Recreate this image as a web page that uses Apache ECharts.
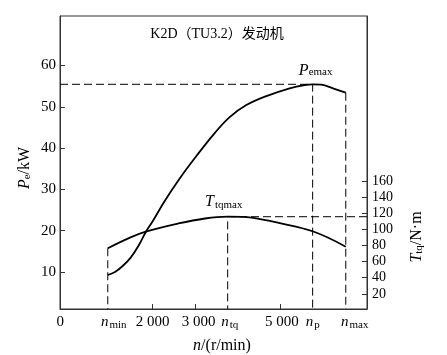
<!DOCTYPE html>
<html><head><meta charset="utf-8">
<script src="https://cdn.jsdelivr.net/npm/echarts@6/dist/echarts.min.js"></script>
<style>html,body{margin:0;padding:0;background:#fff}#c{width:447px;height:355px}</style>
</head><body><div id="c"></div>
<script>
// ---- data ----
const titleText = 'K2D（TU3.2）发动机';
const powerRpm = [945, 1115, 1296, 1485, 1673, 1838, 2010, 2286, 2639, 3032, 3463, 3816, 4209, 4680, 5229, 5583, 5770, 5975, 6249, 6550];
const powerKw  = [9.24, 9.97, 11.42, 13.46, 16.37, 19.61, 22.39, 27.16, 32.61, 38.06, 43.63, 47.51, 50.42, 52.6, 54.48, 55.28, 55.45, 55.35, 54.48, 53.41];
const torqueRpm = [945, 1429, 1822, 2606, 3235, 3769, 4217, 4530, 4923, 5785, 6550];
const torqueNm  = [76.5, 88.8, 96.8, 107.2, 113.4, 115.6, 115.0, 112.7, 108.5, 97.3, 78.4];
const nMin = 945, nTq = 3769, nP = 5770, nMax = 6550;
const pMax = 55.45, tMax = 115.6, pAtNmax = 53.41, tAtNmin = 76.5;
const xTickValues = [2000, 3000, 5000];
const xLabelValues = [0, nMin, 2000, 3000, nTq, 5000, nP, nMax];
const xLabelTexts = ['{z|0}', '{nmin|n}{s|min}', '{d|2 000}', '{d3|3 000}', '{ntq|n}{s|tq}', '{d5|5 000}', '{np|n}{s|p}', '{nmax|n}{s|max}'];
const leftTicks = [10, 20, 30, 40, 50, 60];
const rightTicks = [20, 40, 60, 80, 100, 120, 140, 160];
const X_MIN = -180, X_MAX = 7050;
const PL_MIN = 1, PL_MAX = 72;
const TR_MIN = 1.24, TR_MAX = 364.3;

const serif = "'Liberation Serif','Times New Roman','Noto Sans CJK SC',serif";
const black = '#000';
const dash = [8, 4];

const chart = echarts.init(document.getElementById('c'), null, {renderer: 'canvas'});
const pairs = (xs, ys) => xs.map((x, i) => [x, ys[i]]);

const nRich = {
  z: {fontSize: 15, fontFamily: serif, color: black, padding: [0, 15, 0, 0]},
  d: {fontSize: 15, fontFamily: serif, color: black},
  d3: {fontSize: 15, fontFamily: serif, color: black, padding: [0, 0, 0, 7]},
  d5: {fontSize: 15, fontFamily: serif, color: black, padding: [0, 0, 0, 4]},
  nmin: {fontSize: 15, fontStyle: 'italic', fontFamily: serif, color: black, padding: [0, 0, 3, 12]},
  ntq: {fontSize: 15, fontStyle: 'italic', fontFamily: serif, color: black, padding: [0, 0, 3, 4]},
  np: {fontSize: 15, fontStyle: 'italic', fontFamily: serif, color: black, padding: [0, 0, 3, 0]},
  nmax: {fontSize: 15, fontStyle: 'italic', fontFamily: serif, color: black, padding: [0, 0, 3, 18]},
  s: {fontSize: 11, fontFamily: serif, color: black, padding: [3, 0, 0, 1]}
};

const dashedLine = (data, yIdx) => ({
  type: 'line', yAxisIndex: yIdx, data: data, symbol: 'none', silent: true,
  lineStyle: {color: black, width: 1, type: dash}, z: 1, animation: false
});

chart.setOption({
  animation: false,
  backgroundColor: '#fff',
  grid: {left: 60, right: 80, top: 16, bottom: 46, show: true, borderColor: '#333', borderWidth: 1},
  xAxis: {
    type: 'value', min: X_MIN, max: X_MAX,
    axisLine: {show: true, onZero: false, lineStyle: {color: '#333', width: 1}},
    axisTick: {show: true, inside: true, length: 5, customValues: xTickValues, lineStyle: {color: '#333'}},
    axisLabel: {
      show: true, margin: 6, customValues: xLabelValues,
      formatter: (v) => { const i = xLabelValues.indexOf(v); return i >= 0 ? xLabelTexts[i] : ''; },
      rich: nRich, showMinLabel: true, showMaxLabel: true
    },
    splitLine: {show: false}
  },
  yAxis: [
    {
      type: 'value', min: PL_MIN, max: PL_MAX, position: 'left',
      axisLine: {show: true, onZero: false, lineStyle: {color: '#333', width: 1}},
      axisTick: {show: true, inside: true, length: 5, customValues: leftTicks, lineStyle: {color: '#333'}},
      axisLabel: {show: true, margin: 4, customValues: leftTicks, fontSize: 15, fontFamily: serif, color: black},
      splitLine: {show: false}
    },
    {
      type: 'value', min: TR_MIN, max: TR_MAX, position: 'right',
      axisLine: {show: true, onZero: false, lineStyle: {color: '#333', width: 1}},
      axisTick: {show: true, inside: true, length: 5, customValues: rightTicks, lineStyle: {color: '#333'}},
      axisLabel: {show: true, margin: 5, customValues: rightTicks, fontSize: 14, fontFamily: serif, color: black},
      splitLine: {show: false}
    }
  ],
  graphic: [
    {type: 'text', x: 217, y: 34, style: {text: titleText, font: '14px ' + serif, fill: black, align: 'center', verticalAlign: 'middle'}},
    {type: 'text', x: 25, y: 168, rotation: Math.PI / 2, style: {
      text: '{i|P}{s|e}{r|/kW}', align: 'center', verticalAlign: 'middle',
      rich: {i: {fontSize: 16, fontStyle: 'italic', fontFamily: serif, fill: black},
             s: {fontSize: 11, fontFamily: serif, fill: black, padding: [4, 0, 0, 0]},
             r: {fontSize: 16, fontFamily: serif, fill: black}}}},
    {type: 'text', x: 417, y: 237, rotation: Math.PI / 2, style: {
      text: '{i|T}{s|tq}{r|/N·m}', align: 'center', verticalAlign: 'middle',
      rich: {i: {fontSize: 16, fontStyle: 'italic', fontFamily: serif, fill: black},
             s: {fontSize: 11, fontFamily: serif, fill: black, padding: [4, 0, 0, 0]},
             r: {fontSize: 16, fontFamily: serif, fill: black}}}},
    {type: 'text', x: 222, y: 346, style: {
      text: '{i|n}{r|/(r/min)}', align: 'center', verticalAlign: 'middle',
      rich: {i: {fontSize: 16, fontStyle: 'italic', fontFamily: serif, fill: black},
             r: {fontSize: 16, fontFamily: serif, fill: black}}}}
  ],
  series: [
    dashedLine([[X_MIN, pMax], [nP, pMax], [nP, PL_MIN]], 0),
    dashedLine([[nMax, pAtNmax], [nMax, PL_MIN]], 0),
    dashedLine([[X_MAX, tMax], [nTq, tMax], [nTq, TR_MIN]], 1),
    dashedLine([[nMin, tAtNmin], [nMin, TR_MIN]], 1),
    {
      type: 'line', name: 'Pe', yAxisIndex: 0, data: pairs(powerRpm, powerKw),
      smooth: 0.4, symbol: 'none', lineStyle: {color: black, width: 1.8}, z: 3,
      markPoint: {symbol: 'circle', symbolSize: 0, silent: true, data: [{coord: [nP, pMax]}],
        label: {show: true, position: 'top', distance: 6, offset: [3, 0],
          formatter: '{i|P}{s|emax}',
          rich: {i: {fontSize: 16, fontStyle: 'italic', fontFamily: serif, color: black},
                 s: {fontSize: 11, fontFamily: serif, color: black, padding: [4, 0, 0, 0]}}}}
    },
    {
      type: 'line', name: 'Ttq', yAxisIndex: 1, data: pairs(torqueRpm, torqueNm),
      smooth: 0.4, symbol: 'none', lineStyle: {color: black, width: 1.8}, z: 3,
      markPoint: {symbol: 'circle', symbolSize: 0, silent: true, data: [{coord: [nTq, tMax]}],
        label: {show: true, position: 'top', distance: 6, offset: [-4, 0],
          formatter: '{i|T}{s|tqmax}',
          rich: {i: {fontSize: 16, fontStyle: 'italic', fontFamily: serif, color: black},
                 s: {fontSize: 11, fontFamily: serif, color: black, padding: [6, 0, 0, 1]}}}}
    }
  ]
});
</script>
</body></html>
